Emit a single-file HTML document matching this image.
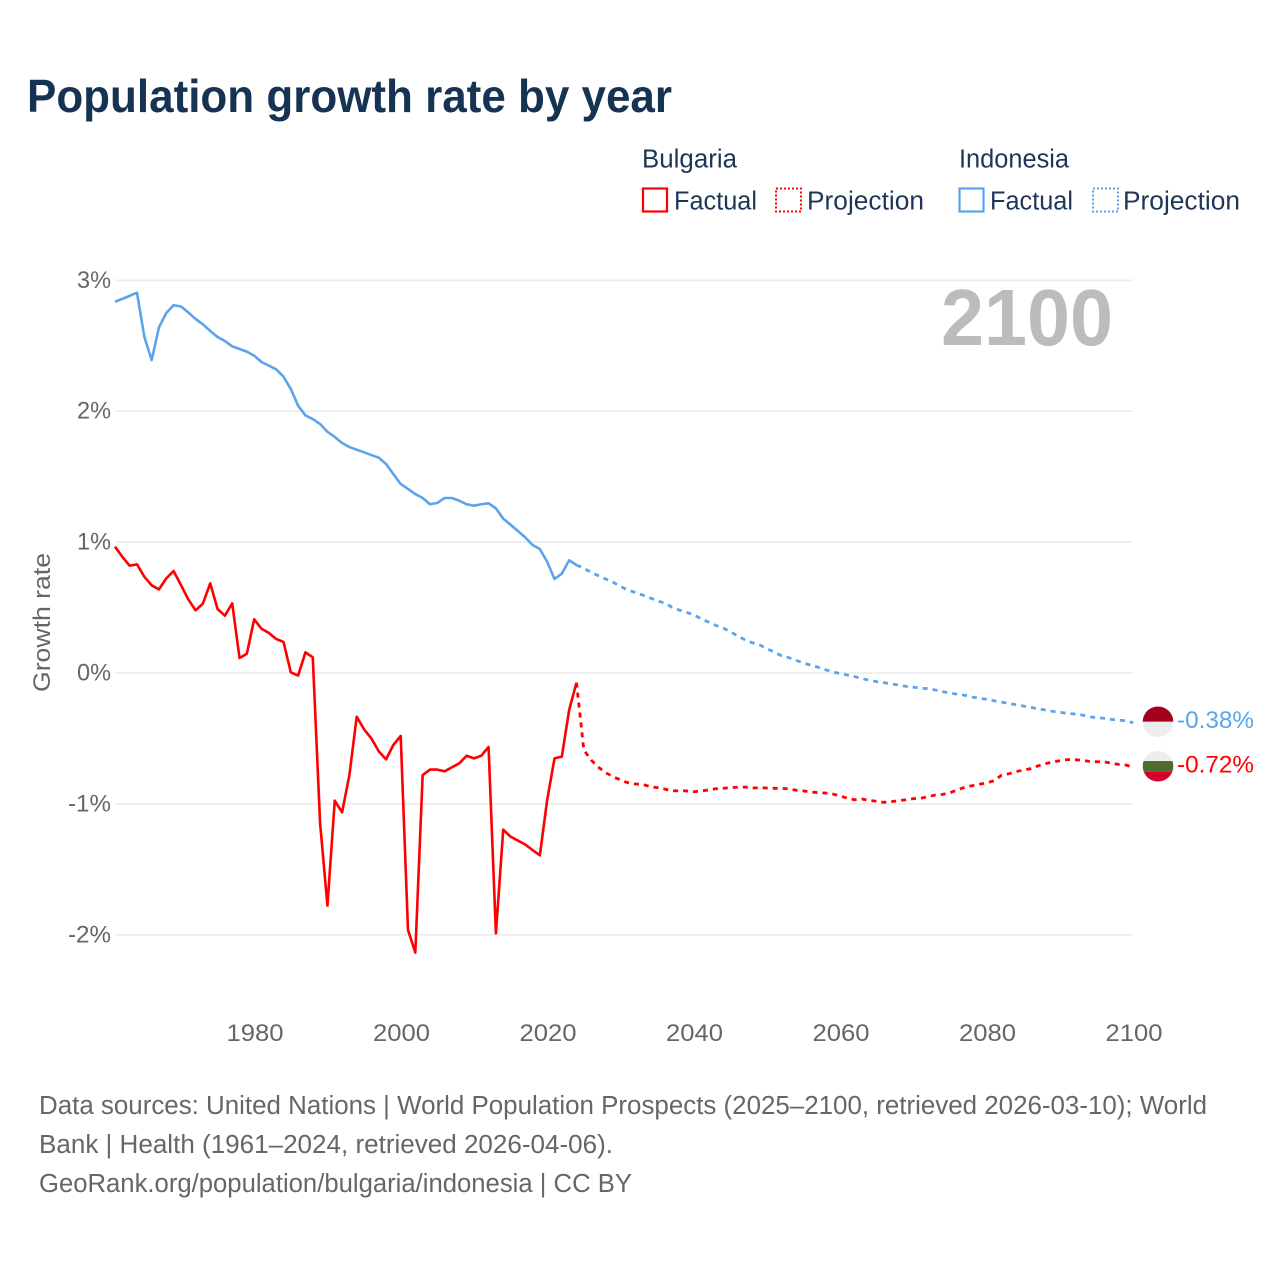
<!DOCTYPE html>
<html lang="en">
<head>
<meta charset="utf-8">
<title>Population growth rate by year</title>
<style>
html,body{margin:0;padding:0;background:#fff;width:1280px;height:1280px;overflow:hidden}
svg{display:block}
text{font-family:"Liberation Sans",sans-serif}
</style>
</head>
<body>
<svg id="chart" xmlns="http://www.w3.org/2000/svg" width="1280" height="1280" viewBox="0 0 1280 1280">
  <rect x="0" y="0" width="1280" height="1280" fill="#fff"/>
  <text x="27" y="112" font-size="46.5" font-weight="700" fill="#163354" textLength="645" lengthAdjust="spacingAndGlyphs">Population growth rate by year</text>

  <g font-size="25.5" fill="#1d3658">
    <text x="642" y="167.5" textLength="95" lengthAdjust="spacingAndGlyphs">Bulgaria</text>
    <text x="959" y="167.5" textLength="110" lengthAdjust="spacingAndGlyphs">Indonesia</text>
    <rect x="643" y="188.5" width="24" height="23" fill="none" stroke="#ff0000" stroke-width="2.2"/>
    <text x="674" y="209.5" textLength="83" lengthAdjust="spacingAndGlyphs">Factual</text>
    <rect x="776" y="188.5" width="25" height="23" fill="none" stroke="#ff0000" stroke-width="2" stroke-dasharray="2 2"/>
    <text x="807" y="209.5" textLength="117" lengthAdjust="spacingAndGlyphs">Projection</text>
    <rect x="959.5" y="188.5" width="24" height="23" fill="none" stroke="#5ba4ec" stroke-width="2.2"/>
    <text x="990" y="209.5" textLength="83" lengthAdjust="spacingAndGlyphs">Factual</text>
    <rect x="1093" y="188.5" width="25" height="23" fill="none" stroke="#5ba4ec" stroke-width="2" stroke-dasharray="2 2"/>
    <text x="1123" y="209.5" textLength="117" lengthAdjust="spacingAndGlyphs">Projection</text>
  </g>

  <g id="grid"></g>
  <text x="941" y="345" font-size="80" font-weight="700" fill="#bcbcbc" textLength="172" lengthAdjust="spacingAndGlyphs">2100</text>
  <g id="ticks" font-size="24" fill="#666"></g>
  <text transform="translate(50,692) rotate(-90)" font-size="24" fill="#666" textLength="139" lengthAdjust="spacingAndGlyphs">Growth rate</text>
  <g id="series"></g>
  <defs>
    <clipPath id="clip-id"><circle id="clip-id-c" r="15.3"/></clipPath>
    <clipPath id="clip-bg"><circle id="clip-bg-c" r="15.3"/></clipPath>
  </defs>
  <g id="markers"></g>

  <g font-size="25.5" fill="#666">
    <text x="39" y="1114" textLength="1168" lengthAdjust="spacingAndGlyphs">Data sources: United Nations | World Population Prospects (2025–2100, retrieved 2026-03-10); World</text>
    <text x="39" y="1153" textLength="574" lengthAdjust="spacingAndGlyphs">Bank | Health (1961–2024, retrieved 2026-04-06).</text>
    <text x="39" y="1192" textLength="593" lengthAdjust="spacingAndGlyphs">GeoRank.org/population/bulgaria/indonesia | CC BY</text>
  </g>
</svg>
<script>
const factualStartYear = 1961;
const projectionStartYear = 2024;
const xTickYears = [1980, 2000, 2020, 2040, 2060, 2080, 2100];
const yTickValues = [3, 2, 1, 0, -1, -2];
const yTickLabels = ['3%', '2%', '1%', '0%', '-1%', '-2%'];

const indonesiaFactual = [2.836,2.858,2.881,2.905,2.57,2.39,2.64,2.75,2.81,2.80,2.755,2.705,2.664,2.613,2.567,2.536,2.496,2.475,2.455,2.424,2.376,2.348,2.32,2.264,2.17,2.042,1.968,1.94,1.902,1.843,1.803,1.757,1.726,1.706,1.686,1.665,1.645,1.597,1.52,1.444,1.406,1.367,1.337,1.289,1.299,1.337,1.337,1.316,1.289,1.278,1.289,1.296,1.258,1.179,1.133,1.085,1.036,0.978,0.947,0.85,0.718,0.759,0.861,0.825];
const indonesiaProjection = [0.825,0.80,0.769,0.743,0.718,0.693,0.662,0.634,0.616,0.596,0.575,0.552,0.535,0.504,0.481,0.464,0.445,0.415,0.39,0.364,0.344,0.316,0.283,0.254,0.231,0.214,0.186,0.16,0.132,0.117,0.097,0.076,0.059,0.044,0.025,0.008,-0.005,-0.015,-0.028,-0.043,-0.056,-0.066,-0.074,-0.084,-0.092,-0.102,-0.109,-0.115,-0.12,-0.13,-0.143,-0.153,-0.163,-0.17,-0.183,-0.193,-0.201,-0.212,-0.222,-0.232,-0.242,-0.252,-0.262,-0.273,-0.283,-0.293,-0.30,-0.308,-0.313,-0.321,-0.334,-0.341,-0.346,-0.354,-0.361,-0.364,-0.38];
const bulgariaFactual = [0.965,0.888,0.82,0.83,0.736,0.67,0.639,0.723,0.779,0.672,0.563,0.479,0.53,0.685,0.489,0.438,0.532,0.115,0.147,0.41,0.338,0.306,0.26,0.237,0.005,-0.02,0.158,0.12,-1.148,-1.777,-0.975,-1.064,-0.78,-0.334,-0.43,-0.50,-0.598,-0.66,-0.55,-0.481,-1.963,-2.136,-0.78,-0.738,-0.738,-0.751,-0.72,-0.69,-0.632,-0.652,-0.632,-0.565,-1.989,-1.197,-1.25,-1.28,-1.31,-1.352,-1.393,-0.97,-0.652,-0.639,-0.283,-0.074];
const bulgariaProjection = [-0.074,-0.588,-0.665,-0.72,-0.762,-0.792,-0.817,-0.838,-0.848,-0.85,-0.868,-0.876,-0.886,-0.901,-0.899,-0.901,-0.907,-0.901,-0.894,-0.884,-0.881,-0.876,-0.873,-0.871,-0.879,-0.876,-0.879,-0.881,-0.881,-0.886,-0.896,-0.901,-0.909,-0.914,-0.917,-0.925,-0.94,-0.957,-0.968,-0.963,-0.973,-0.98,-0.988,-0.983,-0.975,-0.968,-0.96,-0.957,-0.945,-0.932,-0.927,-0.914,-0.894,-0.873,-0.861,-0.85,-0.84,-0.823,-0.782,-0.77,-0.754,-0.741,-0.731,-0.71,-0.693,-0.68,-0.67,-0.662,-0.662,-0.667,-0.675,-0.678,-0.678,-0.69,-0.698,-0.703,-0.72];

const NS = 'http://www.w3.org/2000/svg';
const xScale = function (year) { return 115 + 7.325 * (year - 1961); };
const yScale = function (value) { return 673 - 130.9 * value; };
const pathFrom = function (startYear, values) {
  return values.map(function (v, i) {
    return (i ? 'L' : 'M') + xScale(startYear + i).toFixed(2) + ' ' + yScale(v).toFixed(2);
  }).join('');
};
const make = function (parent, tag, attrs, content) {
  const el = document.createElementNS(NS, tag);
  Object.keys(attrs).forEach(function (k) { el.setAttribute(k, attrs[k]); });
  if (content !== undefined) el.textContent = content;
  parent.appendChild(el);
  return el;
};

const grid = document.getElementById('grid');
const ticks = document.getElementById('ticks');
const series = document.getElementById('series');
const markers = document.getElementById('markers');

yTickValues.forEach(function (v, i) {
  const line = make(grid, 'line', {x1: 115, x2: 1133, y1: yScale(v), y2: yScale(v), stroke: '#ececec', 'stroke-width': 1.6});
  
  
  const label = make(ticks, 'text', {x: 111, y: yScale(v) + 7.5, 'text-anchor': 'end', textLength: yTickLabels[i].length === 2 ? 34 : 43, lengthAdjust: 'spacingAndGlyphs'}, yTickLabels[i]);
  
  
});

xTickYears.forEach(function (year) {
  const label = make(ticks, 'text', {x: xScale(year) + 0.8, y: 1041, 'text-anchor': 'middle', textLength: 57, lengthAdjust: 'spacingAndGlyphs'}, String(year));
  
  
});

const lineAttrs = function (startYear, values, color, dashed) {
  const attrs = {d: pathFrom(startYear, values), fill: 'none', stroke: color, 'stroke-width': dashed ? 2.8 : 2.6, 'stroke-linejoin': 'round'};
  if (dashed) attrs['stroke-dasharray'] = '5 5';
  return attrs;
};

const idFactualLine = make(series, 'path', lineAttrs(factualStartYear, indonesiaFactual, '#5ba4ec', false));


const idProjLine = make(series, 'path', lineAttrs(projectionStartYear, indonesiaProjection, '#5ba4ec', true));


const bgFactualLine = make(series, 'path', lineAttrs(factualStartYear, bulgariaFactual, '#ff0000', false));


const bgProjLine = make(series, 'path', lineAttrs(projectionStartYear, bulgariaProjection, '#ff0000', true));



const flagX = 1158;
const idEnd = indonesiaProjection[indonesiaProjection.length - 1];
const bgEnd = bulgariaProjection[bulgariaProjection.length - 1];
const idY = yScale(idEnd) - 1;
const bgY = yScale(bgEnd) - 1;

document.getElementById('clip-id-c').setAttribute('cx', flagX);
document.getElementById('clip-id-c').setAttribute('cy', idY);
document.getElementById('clip-bg-c').setAttribute('cx', flagX);
document.getElementById('clip-bg-c').setAttribute('cy', bgY);

const idFlag = make(markers, 'g', {'clip-path': 'url(#clip-id)'});


make(idFlag, 'rect', {x: flagX - 16, y: idY - 16, width: 32, height: 16, fill: '#a6001f'});
make(idFlag, 'rect', {x: flagX - 16, y: idY, width: 32, height: 16, fill: '#ededed'});

const bgFlag = make(markers, 'g', {'clip-path': 'url(#clip-bg)'});


make(bgFlag, 'rect', {x: flagX - 16, y: bgY - 16, width: 32, height: 11, fill: '#ededed'});
make(bgFlag, 'rect', {x: flagX - 16, y: bgY - 5.2, width: 32, height: 10.6, fill: '#4f6b2e'});
make(bgFlag, 'rect', {x: flagX - 16, y: bgY + 5.4, width: 32, height: 11, fill: '#d4002b'});

const idLabel = make(markers, 'text', {x: 1177, y: idY + 6.5, 'font-size': 24, fill: '#5ba4ec', textLength: 77, lengthAdjust: 'spacingAndGlyphs'}, idEnd.toFixed(2) + '%');


const bgLabel = make(markers, 'text', {x: 1177, y: bgY + 6.5, 'font-size': 24, fill: '#ff0000', textLength: 77, lengthAdjust: 'spacingAndGlyphs'}, bgEnd.toFixed(2) + '%');


</script>
</body>
</html>
